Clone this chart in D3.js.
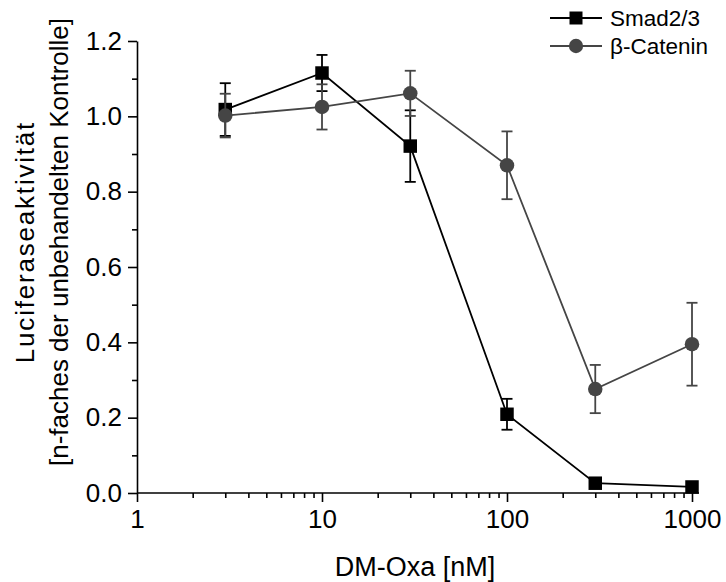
<!DOCTYPE html>
<html>
<head>
<meta charset="utf-8">
<script src="https://cdn.jsdelivr.net/npm/d3@7"></script>
<style>
  body { margin: 0; background: #fff; }
  svg text { font-family: "Liberation Sans", Arial, sans-serif; fill: #000; }
  .axis path, .axis line { stroke: #000; stroke-width: 1.6px; }
</style>
</head>
<body>
<div id="chart"></div>
<script>
// Data
var doses = [3, 10, 30, 100, 300, 1000];
var smadValues = [1.018, 1.115, 0.921, 0.209, 0.026, 0.016];
var smadErrors = [0.07, 0.048, 0.095, 0.041, 0, 0];
var cateninValues = [1.002, 1.025, 1.061, 0.87, 0.276, 0.395];
var cateninErrors = [0.058, 0.06, 0.06, 0.09, 0.064, 0.11];
var yTicks = [0, 0.2, 0.4, 0.6, 0.8, 1.0, 1.2];
var xTicks = [1, 10, 100, 1000];

var series = [
  { name: "Smad2/3", values: smadValues, errors: smadErrors, color: "#000", shape: "square" },
  { name: "β-Catenin", values: cateninValues, errors: cateninErrors, color: "#454545", shape: "circle" }
];

var width = 726, height = 582;
var margins = { top: 41, right: 27, bottom: 89, left: 137 };
var chartWidth = 555;
var chartHeight = height - margins.top - margins.bottom;

var svg = d3.select("#chart").append("svg")
  .attr("width", width)
  .attr("height", height);

var chart = svg.append("g")
  .attr("transform", `translate(${margins.left},${margins.top})`);

var xScale = d3.scaleLog().domain([1, 1000]).range([0, chartWidth]);
var yScale = d3.scaleLinear().domain([0, 1.2]).range([chartHeight, 0]);

// minor ticks
var xMinor = [];
[1, 10, 100].forEach(d => { for (var i = 2; i <= 9; i++) xMinor.push(d * i); });
var yMinor = d3.range(0.1, 1.2, 0.2);

var xAxisMinor = d3.axisBottom(xScale).tickValues(xMinor).tickSize(5).tickFormat("");
var yAxisMinor = d3.axisLeft(yScale).tickValues(yMinor).tickSize(5).tickFormat("");

var xAxis = d3.axisBottom(xScale)
  .tickValues(xTicks)
  .tickSize(9)
  .tickSizeOuter(0)
  .tickPadding(5)
  .tickFormat(d => d);

var yAxis = d3.axisLeft(yScale)
  .tickValues(yTicks)
  .tickSize(9)
  .tickSizeOuter(0)
  .tickPadding(6)
  .tickFormat(d3.format(".1f"));

chart.append("g")
  .attr("class", "x axis")
  .attr("transform", `translate(0,${chartHeight})`)
  .call(xAxisMinor)
  .select(".domain").remove();

chart.append("g")
  .attr("class", "y axis")
  .call(yAxisMinor)
  .select(".domain").remove();

var xG = chart.append("g")
  .attr("class", "x axis")
  .attr("transform", `translate(0,${chartHeight})`)
  .call(xAxis);
xG.select(".domain").attr("d", `M0,0H${chartWidth + 7}`);
xG.selectAll("text").attr("font-size", 26).attr("dy", "0.8em");

var yG = chart.append("g")
  .attr("class", "y axis")
  .call(yAxis);
yG.selectAll("text").attr("font-size", 26);

// axis titles
svg.append("text")
  .attr("x", 415)
  .attr("y", 576)
  .attr("text-anchor", "middle")
  .attr("font-size", 27)
  .text("DM-Oxa [nM]");

var yTitle = svg.append("text")
  .attr("transform", "translate(0,242) rotate(-90)")
  .attr("font-size", 26)
  .attr("text-anchor", "middle");
yTitle.append("tspan").attr("x", 0).attr("y", 34)
  .attr("letter-spacing", 1.8)
  .text("Luciferaseaktivität");
yTitle.append("tspan").attr("x", 0).attr("y", 68).text("[n-faches der unbehandelten Kontrolle]");

// lines, error bars, markers
var line = d3.line()
  .x((d, i) => xScale(doses[i]))
  .y(d => yScale(d));

var capHalf = 5.5;

series.forEach(function(s) {
  var g = chart.append("g").attr("class", "series");

  g.append("path")
    .attr("d", line(s.values))
    .attr("fill", "none")
    .attr("stroke", s.color)
    .attr("stroke-width", 1.8);

  var errs = g.selectAll(".err")
    .data(s.values.map((v, i) => ({ x: doses[i], v: v, e: s.errors[i] })).filter(d => d.e > 0))
    .enter().append("g").attr("class", "err")
    .attr("stroke", s.color)
    .attr("stroke-width", 1.8);

  errs.append("line")
    .attr("x1", d => xScale(d.x)).attr("x2", d => xScale(d.x))
    .attr("y1", d => yScale(d.v + d.e)).attr("y2", d => yScale(d.v - d.e));
  errs.append("line")
    .attr("x1", d => xScale(d.x) - capHalf).attr("x2", d => xScale(d.x) + capHalf)
    .attr("y1", d => yScale(d.v + d.e)).attr("y2", d => yScale(d.v + d.e));
  errs.append("line")
    .attr("x1", d => xScale(d.x) - capHalf).attr("x2", d => xScale(d.x) + capHalf)
    .attr("y1", d => yScale(d.v - d.e)).attr("y2", d => yScale(d.v - d.e));

  var symbol = d3.symbol()
    .type(s.shape === "square" ? d3.symbolSquare : d3.symbolCircle)
    .size(s.shape === "square" ? 182 : 165);

  g.selectAll(".pt")
    .data(s.values)
    .enter().append("path")
    .attr("class", "pt")
    .attr("d", symbol)
    .attr("transform", (d, i) => `translate(${xScale(doses[i])},${yScale(d)})`)
    .attr("fill", s.color);
});

// legend
var legend = svg.append("g").attr("class", "legend");
series.forEach(function(s, i) {
  var row = legend.append("g").attr("transform", `translate(550,${18 + i * 28})`);
  row.append("line")
    .attr("x1", 0).attr("x2", 52)
    .attr("stroke", s.color).attr("stroke-width", 1.8);
  row.append("path")
    .attr("d", d3.symbol()
      .type(s.shape === "square" ? d3.symbolSquare : d3.symbolCircle)
      .size(s.shape === "square" ? 169 : 160))
    .attr("transform", "translate(26,0)")
    .attr("fill", s.color);
  row.append("text")
    .attr("x", 60)
    .attr("dy", "0.36em")
    .attr("font-size", 22.5)
    .text(s.name);
});
</script>
</body>
</html>
